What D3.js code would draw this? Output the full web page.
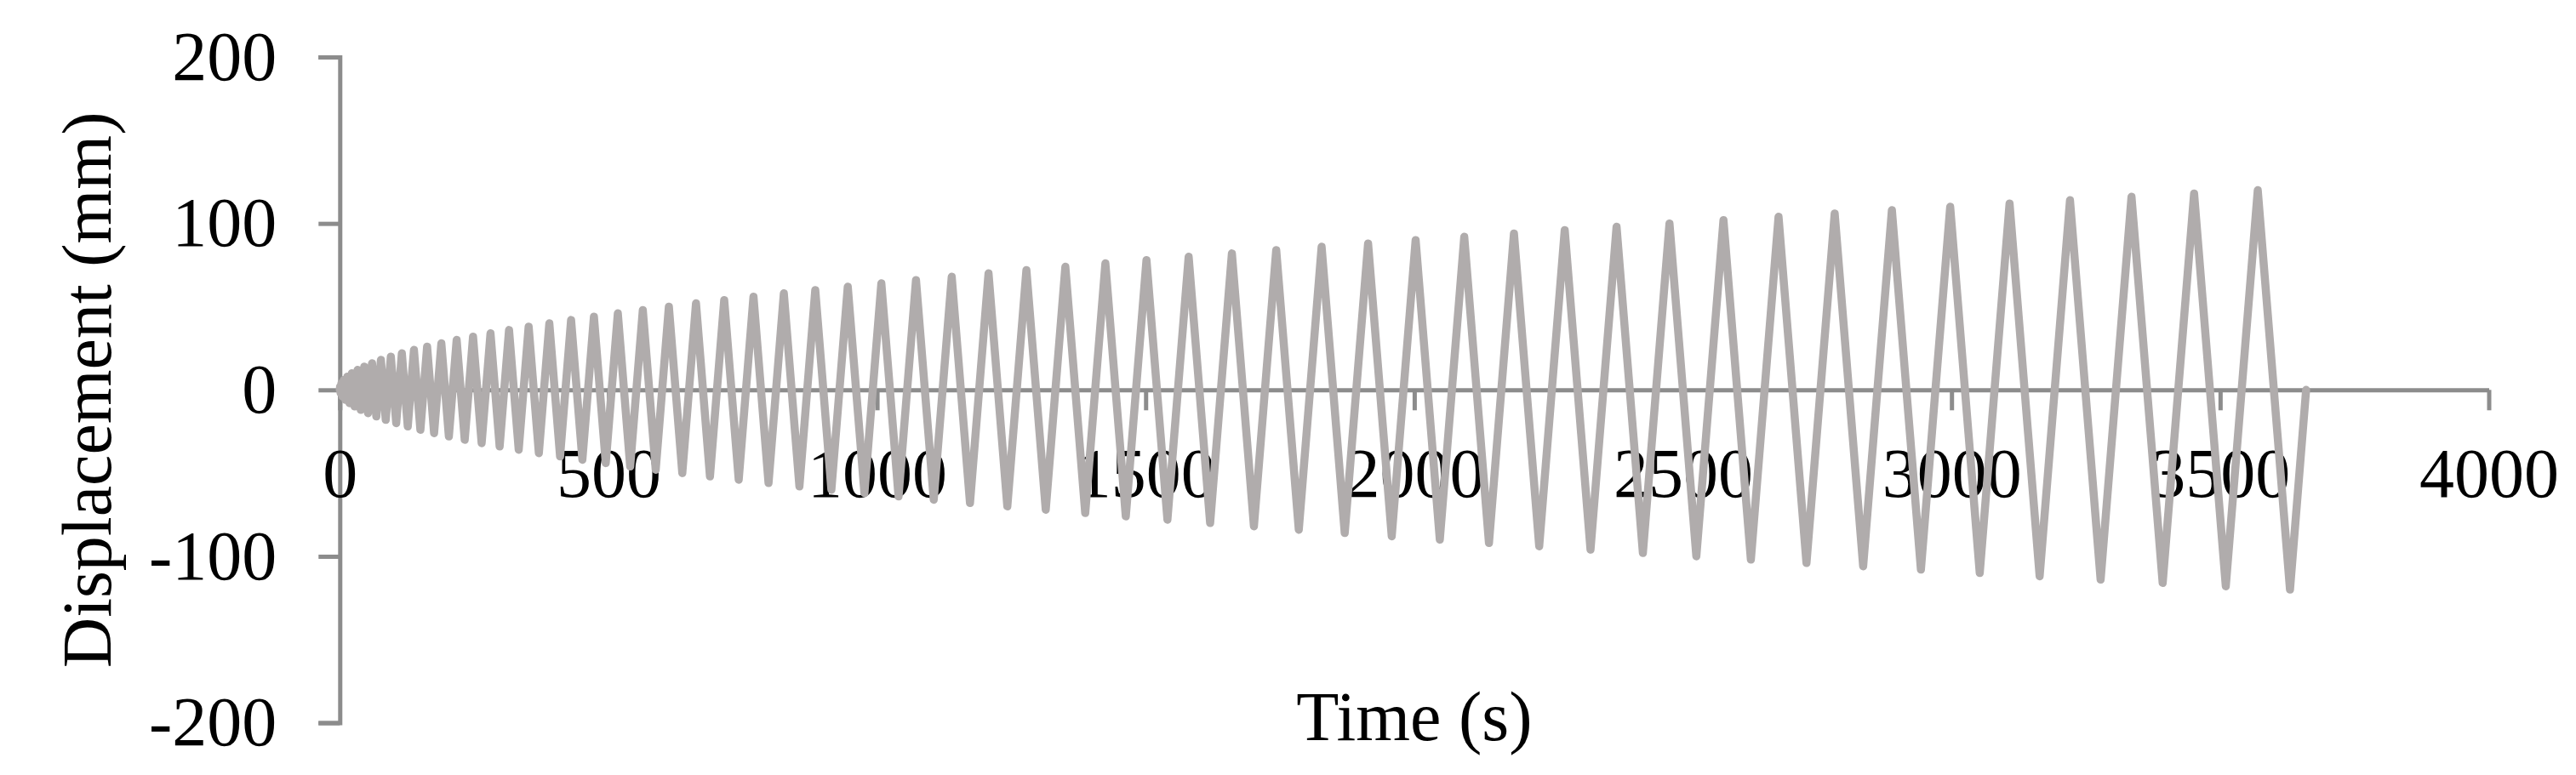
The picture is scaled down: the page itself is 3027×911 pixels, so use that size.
<!DOCTYPE html>
<html>
<head>
<meta charset="utf-8">
<script src="https://cdn.jsdelivr.net/npm/d3@7"></script>
<style>
    body { margin: 0; background: #fff; }
    svg { display: block; }
    .axis path, .axis line { stroke: #8c8c8c; stroke-width: 5; }
    .axis text { fill: #000; }
</style>
</head>
<body>
<svg id="chart" width="3027" height="911"></svg>
<script>
// cycle amplitudes (mm), one value per loading cycle
var cycleAmp = [2, 4, 6, 8, 10, 12, 14, 16, 18, 20,
    22, 24, 26, 28, 30, 32, 34, 36, 38, 40,
    42, 44, 46, 48, 50, 52, 54, 56, 58, 60,
    62, 64, 66, 68, 70, 72, 74, 76, 78, 80,
    82, 84, 86, 88, 90, 92, 94, 96, 98, 100,
    102, 104, 106, 108, 110, 112, 114, 116, 118, 120];

// time (s) of each positive peak
var peakTime = [0.5, 3, 7.5, 14, 22.5, 33, 45.5, 60, 76.5, 95,
    115.5, 138, 162.5, 189, 217.5, 248, 280.5, 315, 351.5, 390,
    430.5, 473, 517.5, 564, 612.5, 663, 715.5, 770, 826.5, 885,
    945.5, 1008, 1072.5, 1139, 1207.5, 1278, 1350.5, 1425, 1501.5, 1580,
    1660.5, 1743, 1827.5, 1914, 2002.5, 2093, 2185.5, 2280, 2376.5, 2475,
    2575.5, 2678, 2782.5, 2889, 2997.5, 3108, 3220.5, 3335, 3451.5, 3570];

// time (s) of each negative peak
var troughTime = [1.5, 5, 10.5, 18, 27.5, 39, 52.5, 68, 85.5, 105,
    126.5, 150, 175.5, 203, 232.5, 264, 297.5, 333, 370.5, 410,
    451.5, 495, 540.5, 588, 637.5, 689, 742.5, 798, 855.5, 915,
    976.5, 1040, 1105.5, 1173, 1242.5, 1314, 1387.5, 1463, 1540.5, 1620,
    1701.5, 1785, 1870.5, 1958, 2047.5, 2139, 2232.5, 2328, 2425.5, 2525,
    2626.5, 2730, 2835.5, 2943, 3052.5, 3164, 3277.5, 3393, 3510.5, 3630];

var startTime = 0;
var endTime = 3660;

var xTicks = [0, 500, 1000, 1500, 2000, 2500, 3000, 3500, 4000];
var yTicks = [-200, -100, 0, 100, 200];

// build the polyline
var points = [[startTime, 0]];
cycleAmp.forEach(function(a, i){
    points.push([peakTime[i], a]);
    points.push([troughTime[i], -a]);
});
points.push([endTime, 0]);

var svg = d3.select("#chart");
var font = "'Liberation Serif', 'Times New Roman', serif";

var x = d3.scaleLinear().domain([0, 4000]).range([399.3, 2924.5]);
var y = d3.scaleLinear().domain([-200, 200]).range([849.6, 67]);

// y axis
var gy = svg.append("g")
    .attr("class", "axis")
    .attr("transform", "translate(" + x(0) + ",0)")
    .call(d3.axisLeft(y)
        .tickValues(yTicks)
        .tickFormat(function(d){ return String(d); })
        .tickSize(25)
        .tickSizeOuter(25)
        .tickPadding(49));

// x axis at zero
var gx = svg.append("g")
    .attr("class", "axis")
    .attr("transform", "translate(0," + y(0) + ")")
    .call(d3.axisBottom(x)
        .tickValues(xTicks)
        .tickFormat(function(d){ return String(d); })
        .tickSize(24)
        .tickSizeOuter(0)
        .tickPadding(43));

svg.selectAll(".axis text")
    .attr("font-family", font)
    .attr("font-size", 82);
svg.selectAll(".axis .domain").attr("fill", "none");

// data line
var line = d3.line()
    .x(function(d){ return x(d[0]); })
    .y(function(d){ return y(d[1]); });

svg.append("path")
    .datum(points)
    .attr("d", line)
    .attr("fill", "none")
    .attr("stroke", "#b0acac")
    .attr("stroke-width", 9.5)
    .attr("stroke-linejoin", "round")
    .attr("stroke-linecap", "round");

// axis titles
svg.append("text")
    .attr("x", (x(0) + x(4000)) / 2)
    .attr("y", 870)
    .attr("text-anchor", "middle")
    .attr("font-family", font)
    .attr("font-size", 82)
    .text("Time (s)");

svg.append("text")
    .attr("transform", "translate(130," + y(0) + ") rotate(-90)")
    .attr("text-anchor", "middle")
    .attr("font-family", font)
    .attr("font-size", 82)
    .text("Displacement (mm)");
</script>
</body>
</html>
